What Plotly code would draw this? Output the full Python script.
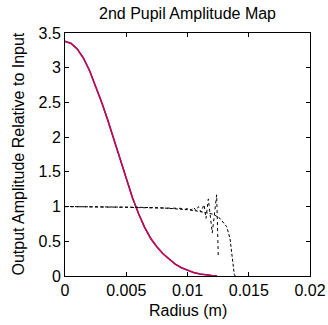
import plotly.graph_objects as go

# Gaussian-like output amplitude (red over blue)
radius_main = [0, 0.0005, 0.001, 0.0015, 0.002, 0.0025, 0.003, 0.0035, 0.004, 0.0045,
               0.005, 0.0055, 0.006, 0.0065, 0.007, 0.0075, 0.008, 0.0085, 0.009, 0.0095,
               0.01, 0.0105, 0.011, 0.0115, 0.012, 0.0124]
amp_main = [3.38, 3.35, 3.27, 3.14, 2.96, 2.74, 2.50, 2.24, 1.96, 1.67,
            1.40, 1.13, 0.90, 0.70, 0.54, 0.42, 0.32, 0.24, 0.17, 0.12,
            0.08, 0.05, 0.03, 0.015, 0.006, 0.0]

# Oscillating dotted curve
radius_osc = [0, 0.001, 0.002, 0.003, 0.004, 0.005, 0.006, 0.007, 0.008, 0.0088, 0.0094,
              0.0098, 0.0101, 0.0103, 0.0105, 0.0107, 0.0109, 0.0111, 0.01135, 0.01151,
              0.0117, 0.01202, 0.01238, 0.01251]
amp_osc = [1.0, 1.0, 1.0, 0.998, 0.995, 0.99, 0.985, 0.98, 0.975, 0.97, 0.975,
           0.96, 0.98, 0.95, 0.99, 0.94, 1.0, 0.92, 1.03, 0.83,
           1.11, 0.62, 1.17, 0.30]

# Smooth dashed curve
radius_smooth = [0, 0.002, 0.004, 0.006, 0.008, 0.009, 0.010, 0.011, 0.0115, 0.0121,
                 0.01265, 0.0132, 0.01347, 0.0136, 0.01374, 0.01382, 0.0139]
amp_smooth = [1.0, 0.998, 0.995, 0.99, 0.98, 0.97, 0.955, 0.93, 0.915, 0.89,
              0.83, 0.71, 0.54, 0.35, 0.16, 0.02, 0.0]

x_ticks = [0, 0.005, 0.01, 0.015, 0.02]
x_ticktext = ["0", "0.005", "0.01", "0.015", "0.02"]
y_ticks = [0, 0.5, 1, 1.5, 2, 2.5, 3, 3.5]
y_ticktext = ["0", "0.5", "1", "1.5", "2", "2.5", "3", "3.5"]

W, H = 328, 325
L, R, T, B = 65, 18, 33, 49

fig = go.Figure()
fig.add_trace(go.Scatter(x=radius_main, y=amp_main, mode="lines",
                         line=dict(color="#3030ff", width=1.6), showlegend=False))
fig.add_trace(go.Scatter(x=radius_main, y=amp_main, mode="lines",
                         line=dict(color="#d8002c", width=1.4), showlegend=False))
fig.add_trace(go.Scatter(x=radius_osc, y=amp_osc, mode="lines",
                         line=dict(color="black", width=1, dash="dot"), showlegend=False))
fig.add_trace(go.Scatter(x=radius_smooth, y=amp_smooth, mode="lines",
                         line=dict(color="black", width=1, dash="3px,2px"), showlegend=False))

fs = 16
font = dict(family="Liberation Sans, Arial, sans-serif", size=fs, color="black")
fig.update_layout(
    width=W, height=H,
    margin=dict(l=L, r=R, t=T, b=B, autoexpand=False),
    paper_bgcolor="white", plot_bgcolor="white",
    font=font,
    xaxis=dict(range=[0, 0.02], tickvals=x_ticks, ticktext=x_ticktext, automargin=False,
               showline=True, linecolor="black", linewidth=1, mirror="ticks",
               ticks="inside", ticklen=4, tickcolor="black", showgrid=False, zeroline=False,
               tickfont=dict(size=fs)),
    yaxis=dict(range=[0, 3.5], tickvals=y_ticks, ticktext=y_ticktext, automargin=False,
               showline=True, linecolor="black", linewidth=1, mirror="ticks",
               ticks="inside", ticklen=4, tickcolor="black", showgrid=False, zeroline=False,
               tickfont=dict(size=fs)),
    annotations=[
        dict(text="2nd Pupil Amplitude Map", xref="paper", yref="paper",
             x=0.5, y=1, yshift=9, xanchor="center", yanchor="bottom",
             showarrow=False, font=dict(size=fs)),
        dict(text="Radius (m)", xref="paper", yref="paper",
             x=0.5, y=0, yshift=-24, xanchor="center", yanchor="top",
             showarrow=False, font=dict(size=fs)),
        dict(text="Output Amplitude Relative to Input", xref="paper", yref="paper",
             x=0, y=0.5, xshift=-47, xanchor="center", yanchor="middle", textangle=-90,
             showarrow=False, font=dict(size=fs)),
    ],
)
fig.write_html("out.html", config={"displayModeBar": False},
               post_script="document.body.style.margin='0px';")
